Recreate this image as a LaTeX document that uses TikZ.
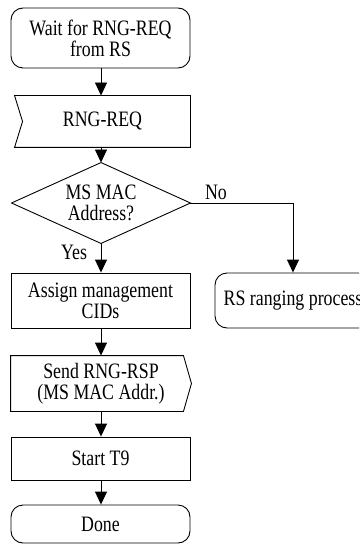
\documentclass[tikz,border=0pt]{standalone}
\usepackage{fontspec}
\setmainfont{Liberation Serif}[FakeStretch=0.81]
\usetikzlibrary{arrows.meta,calc}
\begin{document}
\begin{tikzpicture}[x=1pt,y=-1pt,
  font=\fontsize{22}{21}\selectfont,
  line width=0.9pt,
  plain/.style={rectangle, align=center, inner sep=0pt},
  box/.style={plain, draw},
  term/.style={box, rounded corners=12pt},
  flow/.style={-{Triangle[length=13pt,width=12pt]}}]
\useasboundingbox (0,0) rectangle (359,545);
\clip (0,0) rectangle (359,545);

% states and tasks
\node[term, minimum width=179pt, minimum height=60pt] (wait) at (100.5,38) {Wait for RNG-REQ\\from RS};
\node[plain, minimum width=175pt, minimum height=51pt] (recv) at (102.5,121.5) {RNG-REQ};
\draw (recv.north west) -- (recv.north east) -- (recv.south east) -- (recv.south west)
      -- ($(recv.west)+(8,0)$) -- cycle;
\node[plain, minimum width=178pt, minimum height=80pt] (dec) at (101,203) {MS MAC\\Address?};
\draw (dec.north) -- (dec.east) -- (dec.south) -- (dec.west) -- cycle;
\node[box, minimum width=179pt, minimum height=55pt] (assign) at (100.5,300.5) {Assign management\\CIDs};
\node[term, minimum width=156pt, minimum height=55pt] (rs) at (293,300.5) {RS ranging process};
\node[plain, minimum width=180pt, minimum height=55pt] (send) at (101,383.5) {Send RNG-RSP\\(MS MAC Addr.)};
\draw (send.north west) -- ($(send.north east)+(-8,0)$) -- (send.east)
      -- ($(send.south east)+(-8,0)$) -- (send.south west) -- cycle;
\node[box, minimum width=179pt, minimum height=43pt] (start) at (100.5,458.5) {Start T9};
\node[term, minimum width=179pt, minimum height=38pt] (done) at (100.5,524) {Done};

% branch labels
\node (yes) at (74,252) {Yes};
\node (no) at (216,192) {No};

% flow
\draw[flow] (dec.north |- wait.south) -- (dec.north |- recv.north);
\draw[flow] (dec.north |- recv.south) -- (dec.north);
\draw[flow] (dec.south) -- (dec.south |- assign.north);
\draw[flow] (dec.east) -| (rs.north);
\draw[flow] (dec.south |- assign.south) -- (dec.south |- send.north);
\draw[flow] (dec.south |- send.south) -- (dec.south |- start.north);
\draw[flow] (dec.south |- start.south) -- (dec.south |- done.north);
\end{tikzpicture}
\end{document}
